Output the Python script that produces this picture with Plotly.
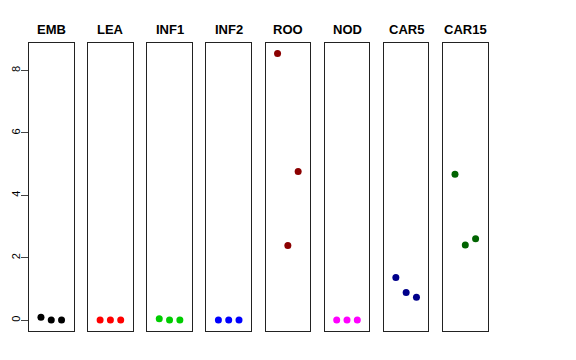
import plotly.graph_objects as go

tissues = ["EMB", "LEA", "INF1", "INF2", "ROO", "NOD", "CAR5", "CAR15"]
values = {
    "EMB": [0.10, 0.01, 0.01],
    "LEA": [0.01, 0.01, 0.01],
    "INF1": [0.05, 0.01, 0.01],
    "INF2": [0.01, 0.01, 0.01],
    "ROO": [8.54, 2.40, 4.77],
    "NOD": [0.01, 0.01, 0.01],
    "CAR5": [1.37, 0.89, 0.74],
    "CAR15": [4.68, 2.41, 2.61],
}
colors = ["#000000", "#FF0000", "#00CD00", "#0000FF", "#8B0000", "#FF00FF", "#00008B", "#006400"]
reps = [1, 2, 3]
y_ticks = [0, 2, 4, 6, 8]

W, H = 576, 360
OFF = 8  # page offset compensation
fig = go.Figure()
layout = dict(width=W, height=H, margin=dict(l=0, r=0, t=0, b=0, autoexpand=False),
              plot_bgcolor="white", paper_bgcolor="white", showlegend=False)
annotations = []
ydom = [(H - (331 - OFF)) / H, (H - (43 - OFF)) / H]
for i, t in enumerate(tissues):
    x0 = 29 - OFF + i * 59.15
    x1 = x0 + 44.5
    ax = "" if i == 0 else str(i + 1)
    fig.add_trace(go.Scatter(x=reps, y=values[t], mode="markers",
                             marker=dict(color=colors[i], size=7),
                             xaxis="x" + ax, yaxis="y" + ax))
    layout["xaxis" + ax] = dict(domain=[x0 / W, x1 / W], range=[-0.16, 4.16],
                                showgrid=False, zeroline=False, showticklabels=False,
                                ticks="", showline=True, mirror=True, automargin=False,
                                linecolor="#222", linewidth=1, fixedrange=True,
                                anchor="y" + ax)
    yd = dict(domain=ydom, range=[-0.34, 8.88], showgrid=False, zeroline=False,
              showline=True, mirror=True, linecolor="#222", linewidth=1,
              automargin=False, anchor="x" + ax)
    if i == 0:
        yd.update(tickmode="array", tickvals=y_ticks, ticktext=[str(v) for v in y_ticks],
                  ticks="outside", ticklen=7, tickcolor="#444", tickangle=-90,
                  ticklabelstandoff=-3,
                  tickfont=dict(family="Liberation Sans, Arial", size=11, color="black"))
    else:
        yd.update(showticklabels=False, ticks="")
    layout["yaxis" + ax] = yd
    annotations.append(dict(text="<b>%s</b>" % t, x=(x0 + x1) / 2 / W, y=1 - (29.5 - OFF) / H,
                            xref="paper", yref="paper", showarrow=False,
                            xanchor="center", yanchor="middle",
                            font=dict(family="Liberation Sans, Arial", size=13, color="black")))
layout["annotations"] = annotations
fig.update_layout(**layout)
fig.write_html("out.html")
